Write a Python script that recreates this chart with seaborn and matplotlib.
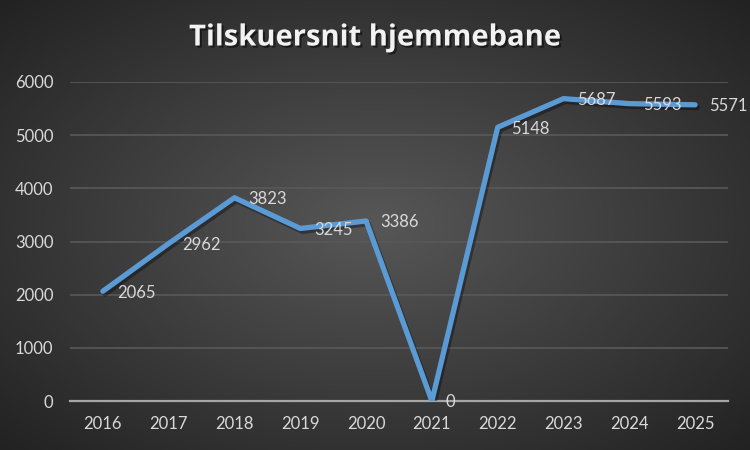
import matplotlib
matplotlib.use("Agg")
import matplotlib.pyplot as plt
import matplotlib.patheffects as pe
import seaborn as sns
import numpy as np
import pandas as pd

# ========== data ==========
years = ["2016", "2017", "2018", "2019", "2020", "2021", "2022", "2023", "2024", "2025"]
spectators = [2065, 2962, 3823, 3245, 3386, 0, 5148, 5687, 5593, 5571]
y_ticks = [0, 1000, 2000, 3000, 4000, 5000, 6000]
title = "Tilskuersnit hjemmebane"

# ========== style ==========
sns.set_theme(style="dark")
plt.rcParams["font.family"] = ["Lato", "DejaVu Sans"]
LINE_COLOR = "#5B9BD5"
TEXT_COLOR = "#D9D9D9"
GRID_COLOR = "#595959"

fig = plt.figure(figsize=(7.5, 4.5), dpi=100)

# radial gradient background (Excel dark style)
bg = fig.add_axes([0, 0, 1, 1], zorder=-10)
gx, gy = np.meshgrid(np.linspace(-1, 1, 750), np.linspace(-1, 1, 450))
r = np.clip(np.sqrt(gx ** 2 + gy ** 2) / np.sqrt(2), 0, 1)
inner = np.array([0x57, 0x57, 0x57]) / 255
outer = np.array([0x22, 0x22, 0x22]) / 255
img = inner[None, None, :] * (1 - r[..., None]) + outer[None, None, :] * r[..., None]
bg.imshow(img, aspect="auto", extent=[0, 1, 0, 1])
bg.set_axis_off()

ax = fig.add_axes([70 / 750, 1 - 401 / 450, 658 / 750, 319 / 450])
ax.set_facecolor("none")

df = pd.DataFrame({"year": years, "value": spectators})
sns.lineplot(data=df, x="year", y="value", ax=ax, sort=False, color=LINE_COLOR,
             linewidth=3.8, solid_capstyle="round", solid_joinstyle="round",
             path_effects=[pe.SimpleLineShadow(offset=(1.5, -2), shadow_color="black", alpha=0.35),
                           pe.Normal()])

# data labels to the right of each point
for i, v in enumerate(spectators):
    ax.annotate(str(v), (i, v), xytext=(10, -1), textcoords="offset points",
                ha="left", va="center", color=TEXT_COLOR, fontsize=12)

ax.set_xlim(-0.5, len(years) - 0.5)
ax.set_ylim(0, 6000)
ax.set_yticks(y_ticks)
ax.set_xlabel("")
ax.set_ylabel("")
ax.tick_params(axis="both", length=0, colors=TEXT_COLOR, labelsize=12)
ax.tick_params(axis="y", pad=12)
ax.tick_params(axis="x", pad=11)
ax.grid(axis="y", color=GRID_COLOR, linewidth=1.2)
ax.grid(axis="x", visible=False)
ax.set_axisbelow(True)
for side in ["top", "right", "left"]:
    ax.spines[side].set_visible(False)
ax.spines["bottom"].set_color("#A6A6A6")
ax.spines["bottom"].set_linewidth(1.6)
ax.spines["bottom"].set_zorder(1)

fig.text(0.5, 1 - 38 / 450, title, ha="center", va="center", color="#F2F2F2",
         fontsize=21, fontweight="bold", family=["Open Sans", "DejaVu Sans"],
         path_effects=[pe.withSimplePatchShadow(offset=(1.5, -1.5), shadow_rgbFace="black", alpha=0.5)])

fig.savefig("out.png", dpi=100)
